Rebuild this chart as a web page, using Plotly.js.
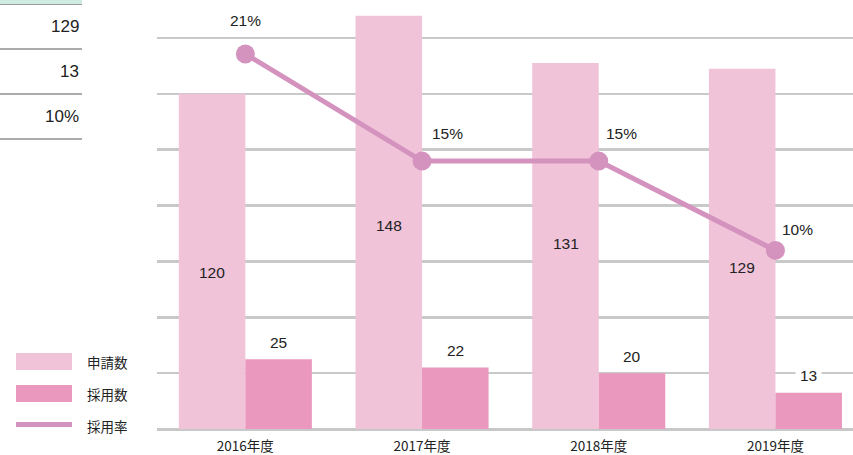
<!DOCTYPE html>
<html>
<head>
<meta charset="utf-8">
<script src="https://cdn.plot.ly/plotly-3.0.1.min.js"></script>
<style>
html,body{margin:0;padding:0;background:#fff;}
#chart{width:853px;height:455px;}
</style>
</head>
<body>
<div id="chart"></div>
<script>
// ---- data ----
const categories = ['2016年度', '2017年度', '2018年度', '2019年度'];
const applied = [120, 148, 131, 129];      // 申請数
const adopted = [25, 22, 20, 13];          // 採用数
const rate = [21, 15, 15, 10];             // 採用率 (%)
const seriesNames = ['申請数', '採用数', '採用率'];
const tableValues = ['129', '13', '10%'];

// ---- styles / positions ----
const C_APPLIED = '#F0C3D8';
const C_ADOPTED = '#EA98BE';
const C_RATE = '#D492BE';
const NUMFONT = 'Liberation Sans, Arial, sans-serif';
const CJKFONT = 'Noto Sans CJK JP, sans-serif';
const appliedLabelShift = [-11, -3, 3, -19];
const rateLabelShift = [[0, 33], [25, 28], [23, 28], [22, 21]];

const L = 157, T = 0, R = 0, B = 26, W = 853, H = 455;
const PW = W - L - R, PH = H - T - B;
const px = x => (x - L) / PW;
const py = y => (PH + T - y) / PH;

const traces = [
  {type: 'bar', x: categories, y: applied, name: seriesNames[0],
   marker: {color: C_APPLIED}, hoverinfo: 'none'},
  {type: 'bar', x: categories, y: adopted, name: seriesNames[1],
   marker: {color: C_ADOPTED}, hoverinfo: 'none'},
  {type: 'scatter', mode: 'lines+markers', x: categories, y: rate, yaxis: 'y2',
   name: seriesNames[2], line: {color: C_RATE, width: 5},
   marker: {color: C_RATE, size: 19}, hoverinfo: 'none'}
];

const annotations = [];
const shapes = [];
categories.forEach((c, i) => {
  annotations.push({xref: 'x', yref: 'y', x: c, y: applied[i] / 2, xshift: -33,
    yshift: appliedLabelShift[i], text: String(applied[i]), showarrow: false,
    font: {family: NUMFONT, size: 15.5, color: '#222'}});
  annotations.push({xref: 'x', yref: 'y', x: c, y: adopted[i], xshift: 33,
    yshift: 17, yanchor: 'middle', text: String(adopted[i]), showarrow: false,
    bgcolor: '#ffffff', borderpad: 4,
    font: {family: NUMFONT, size: 15.5, color: '#222'}});
  annotations.push({xref: 'x', yref: 'y2', x: c, y: rate[i],
    xshift: rateLabelShift[i][0], yshift: rateLabelShift[i][1], text: rate[i] + '%',
    showarrow: false, font: {family: NUMFONT, size: 15.5, color: '#222'}});
});

// custom legend
const legendItems = [
  {name: seriesNames[0], color: C_APPLIED, y0: 353, y1: 370, yc: 362},
  {name: seriesNames[1], color: C_ADOPTED, y0: 385, y1: 402, yc: 394},
  {name: seriesNames[2], color: C_RATE, y0: 422, y1: 427, yc: 426}
];
legendItems.forEach(it => {
  shapes.push({type: 'rect', xref: 'paper', yref: 'paper', x0: px(16), x1: px(72),
    y0: py(it.y1), y1: py(it.y0), fillcolor: it.color, line: {width: 0}, layer: 'above'});
  annotations.push({xref: 'paper', yref: 'paper', x: px(85), y: py(it.yc),
    xanchor: 'left', yanchor: 'middle', text: it.name, showarrow: false,
    font: {family: CJKFONT, size: 13.5, color: '#222'}});
});

// table fragment at top-left
shapes.push({type: 'rect', xref: 'paper', yref: 'paper', x0: px(0), x1: px(82),
  y0: py(4), y1: py(0), fillcolor: '#CDEBE0', line: {width: 0}});
shapes.push({type: 'line', xref: 'paper', yref: 'paper', x0: px(0), x1: px(82),
  y0: py(4.5), y1: py(4.5), line: {color: '#9a9a9a', width: 1}});
[49, 94, 139].forEach(yy => {
  shapes.push({type: 'line', xref: 'paper', yref: 'paper', x0: px(0), x1: px(82),
    y0: py(yy), y1: py(yy), line: {color: '#8f8f8f', width: 1.5}});
});
const tableY = [27, 72, 117];
tableValues.forEach((v, i) => {
  annotations.push({xref: 'paper', yref: 'paper', x: px(81), y: py(tableY[i]),
    xanchor: 'right', yanchor: 'middle', text: v, showarrow: false,
    font: {family: NUMFONT, size: 17, color: '#222'}});
});

const layout = {
  width: W, height: H,
  margin: {l: L, r: R, t: T, b: B, pad: 0},
  paper_bgcolor: '#fff', plot_bgcolor: '#fff',
  barmode: 'group', bargap: 0.247, bargroupgap: 0,
  showlegend: false,
  xaxis: {type: 'category', range: [-0.5, 3.439], showgrid: false, zeroline: false,
    showline: false, ticks: '', ticklabelstandoff: 7,
    tickfont: {family: CJKFONT, size: 13.5, color: '#222'}},
  yaxis: {range: [0, 153.6], dtick: 20, showgrid: true, gridcolor: '#c9c9c9',
    gridwidth: 2.5, zeroline: true, zerolinecolor: '#c8c8c8', zerolinewidth: 3,
    showticklabels: false, ticks: '', showline: false},
  yaxis2: {overlaying: 'y', side: 'right', range: [0, 24.02], showgrid: false,
    zeroline: false, showticklabels: false, ticks: '', showline: false},
  annotations: annotations,
  shapes: shapes
};

Plotly.newPlot('chart', traces, layout, {staticPlot: true, displayModeBar: false});
</script>
</body>
</html>
